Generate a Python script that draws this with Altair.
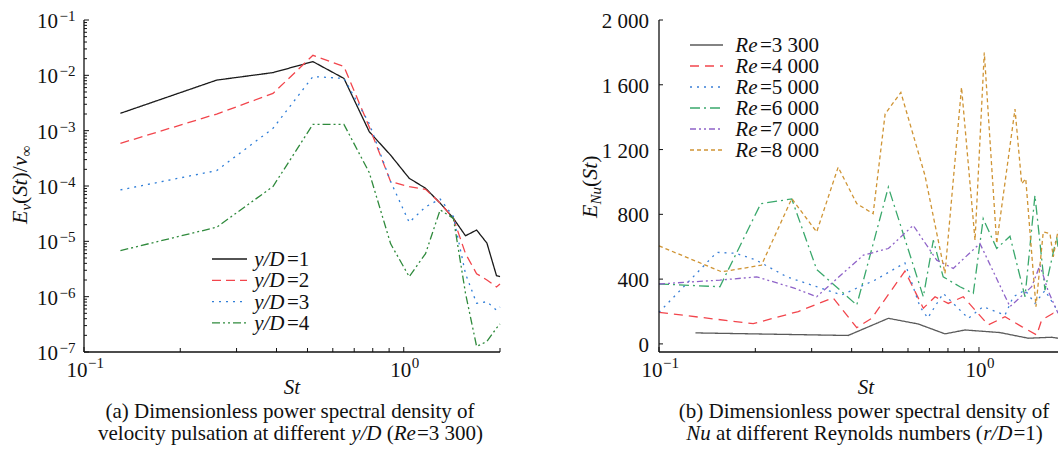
import altair as alt
import pandas as pd

SERIF = "'Liberation Serif', 'Times New Roman', Times, 'DejaVu Serif', serif"
INK = "#111111"

# ---------------- panel (a): velocity pulsation spectra (log-log) ----------------
st_a = [0.13, 0.26, 0.39, 0.52, 0.65, 0.78, 0.91, 1.04, 1.17, 1.30,
        1.43, 1.56, 1.69, 1.82, 1.95, 2.00]
ev_yd1 = [2.06e-3, 8.2e-3, 1.12e-2, 1.77e-2, 8.8e-3, 9.6e-4, 3.6e-4, 1.38e-4,
          9.1e-5, 4.9e-5, 2.6e-5, 1.26e-5, 1.6e-5, 9.3e-6, 2.4e-6, 2.3e-6]
ev_yd2 = [5.9e-4, 2.0e-3, 4.7e-3, 2.3e-2, 1.44e-2, 1.17e-3, 1.2e-4, 9.7e-5,
          8.7e-5, 4.9e-5, 2.6e-5, 6.0e-6, 2.6e-6, 2.0e-6, 1.5e-6, 1.7e-6]
ev_yd3 = [8.5e-5, 1.9e-4, 1.1e-3, 9.5e-3, 8.8e-3, 1.35e-3, 1.2e-4, 2.2e-5,
          4.2e-5, 5.8e-5, 2.8e-5, 2.6e-6, 7.6e-7, 8.1e-7, 5.7e-7, 6.5e-7]
ev_yd4 = [6.8e-6, 1.8e-5, 9.8e-5, 1.3e-3, 1.3e-3, 1.75e-4, 9.0e-6, 2.3e-6,
          6.0e-6, 3.7e-5, 2.6e-5, 1.15e-6, 1.26e-7, 1.55e-7, 2.7e-7, 3.2e-7]

names_a = ["1", "2", "3", "4"]
colors_a = ["#1a1a1a", "#f2454c", "#2f7ed8", "#2f8a3c"]
dashes_a = [[1, 0], [9, 5], [2, 5], [8, 3, 2, 3, 2, 3]]

# ---------------- panel (b): Nu spectra at several Re (log x, linear y) ----------------
st_re33 = [0.130, 0.390, 0.521, 0.646, 0.783, 0.904, 1.163, 1.426, 1.687, 1.766]
nu_re33 = [68, 52, 158, 123, 62, 86, 70, 35, 41, 35]

st_re40 = [0.100, 0.197, 0.2725, 0.350, 0.415, 0.462, 0.587, 0.670, 0.729, 0.802,
           0.893, 1.069, 1.206, 1.360, 1.515, 1.570, 1.707, 1.766]
nu_re40 = [195, 125, 200, 285, 100, 158, 450, 220, 291, 250,
           291, 117, 168, 107, 55, 148, 189, 170]

st_re50 = [0.100, 0.1515, 0.173, 0.200, 0.251, 0.311, 0.372, 0.473, 0.587, 0.654,
           0.692, 0.773, 0.926, 1.031, 1.206, 1.280, 1.393, 1.496, 1.608, 1.766]
nu_re50 = [195, 565, 560, 520, 414, 353, 302, 394, 500, 230,
           160, 312, 158, 230, 178, 291, 332, 250, 330, 200]

st_re60 = [0.100, 0.155, 0.208, 0.260, 0.311, 0.415, 0.521, 0.670, 0.720, 0.773,
           0.872, 0.960, 1.031, 1.136, 1.250, 1.393, 1.496, 1.608, 1.749, 1.766]
nu_re60 = [370, 353, 866, 895, 460, 240, 968, 291, 640, 414,
           353, 312, 773, 589, 665, 291, 917, 332, 660, 600]

st_re70 = [0.100, 0.155, 0.202, 0.266, 0.311, 0.435, 0.521, 0.623, 0.738, 0.831,
           1.007, 1.250, 1.461, 1.551, 1.643, 1.766]
nu_re70 = [370, 394, 414, 343, 291, 548, 589, 732, 517, 466,
           620, 230, 353, 486, 330, 190]

st_re80 = [0.100, 0.157, 0.209, 0.260, 0.311, 0.363, 0.415, 0.467, 0.509, 0.570,
           0.678, 0.783, 0.882, 0.972, 1.039, 1.136, 1.296, 1.360, 1.400, 1.507,
           1.588, 1.667, 1.707, 1.766]
nu_re80 = [605, 445, 486, 897, 691, 1091, 866, 804, 1420, 1553,
           1040, 435, 1584, 640, 1799, 620, 1450, 989, 1020, 230,
           691, 681, 537, 700]

names_b = ["3 300", "4 000", "5 000", "6 000", "7 000", "8 000"]
colors_b = ["#5a5a5a", "#f2454c", "#3a7fd6", "#3aa86c", "#8f63c8", "#cf9434"]
dashes_b = [[1, 0], [9, 6], [2, 5], [10, 4, 2, 4], [6, 3, 2, 3, 2, 3], [4, 3]]

# ---------------- axis tick values and labels ----------------
xa_major = [0.1, 1.0]
xa_minor = [0.2, 0.3, 0.4, 0.5, 0.6, 0.7, 0.8, 0.9, 2.0]
ya_major = [1e-1, 1e-2, 1e-3, 1e-4, 1e-5, 1e-6, 1e-7]
ya_exp = ["\u22121", "\u22122", "\u22123", "\u22124", "\u22125", "\u22126", "\u22127"]
ya_minor = [k * 10.0 ** n for n in range(-7, -1) for k in range(2, 10)]
xb_major = [0.1, 1.0]
xb_minor = [0.2, 0.3, 0.4, 0.5, 0.6, 0.7, 0.8, 0.9]
yb_major = [0, 400, 800, 1200, 1600, 2000]
yb_labels = ["0", "400", "800", "1 200", "1 600", "2 000"]

# ---------------- scales (each panel owns its pixel range) ----------------
XA = alt.Scale(type="log", domain=[0.1, 2.0], range=[84, 500], nice=False)
YA = alt.Scale(type="log", domain=[1e-7, 1e-1], range=[352, 20], nice=False)
XB = alt.Scale(type="log", domain=[0.1, 1.766], range=[659, 1058], nice=False)
YB = alt.Scale(type="linear", domain=[-50, 2000], range=[352, 20], nice=False, zero=False)

ONE = pd.DataFrame({"k": [0]})

# text rows below the plots (alphabetic baselines)
Y_XTITLE = 394
Y_CAP1 = 418
Y_CAP2 = 440


def long_frame(pairs, names):
    rows = []
    for name, (xs, ys) in zip(names, pairs):
        for x, y in zip(xs, ys):
            rows.append({"St": x, "E": y, "series": name})
    return pd.DataFrame(rows)


df_a = long_frame([(st_a, ev_yd1), (st_a, ev_yd2), (st_a, ev_yd3), (st_a, ev_yd4)], names_a)
df_b = long_frame([(st_re33, nu_re33), (st_re40, nu_re40), (st_re50, nu_re50),
                   (st_re60, nu_re60), (st_re70, nu_re70), (st_re80, nu_re80)], names_b)


def txt(s, x, y, size=21, italic=False, align="left", angle=0):
    kw = dict(font=SERIF, fontSize=size, align=align, baseline="alphabetic", color=INK)
    if italic:
        kw["fontStyle"] = "italic"
    if angle:
        kw["angle"] = angle
    return alt.Chart(ONE).mark_text(**kw).encode(
        x=alt.value(x), y=alt.value(y), text=alt.value(s))


def hline(x1, x2, y, color=INK, dash=None, width=1.3):
    kw = dict(color=color, strokeWidth=width)
    if dash:
        kw["strokeDash"] = dash
    return alt.Chart(ONE).mark_rule(**kw).encode(
        x=alt.value(x1), x2=alt.value(x2), y=alt.value(y))


def vline(x, y1, y2, width=1.3):
    return alt.Chart(ONE).mark_rule(color=INK, strokeWidth=width).encode(
        x=alt.value(x), y=alt.value(y1), y2=alt.value(y2))


def xticks(vals, scale, y0, length):
    return alt.Chart(pd.DataFrame({"St": vals})).mark_rule(color=INK, strokeWidth=1).encode(
        x=alt.X("St:Q", scale=scale, axis=None),
        y=alt.value(y0), y2=alt.value(y0 - length))


def yticks(vals, scale, x0, length):
    return alt.Chart(pd.DataFrame({"E": vals})).mark_rule(color=INK, strokeWidth=1).encode(
        y=alt.Y("E:Q", scale=scale, axis=None),
        x=alt.value(x0), x2=alt.value(x0 + length))


def xexp_label(value, scale, shift, exponent):
    d = pd.DataFrame({"St": [value]})
    base = alt.Chart(d).mark_text(font=SERIF, fontSize=21, align="right",
                                  baseline="alphabetic", color=INK, dx=shift, dy=0).encode(
        x=alt.X("St:Q", scale=scale, axis=None), y=alt.value(377), text=alt.value("10"))
    sup = alt.Chart(d).mark_text(font=SERIF, fontSize=15, align="left",
                                 baseline="alphabetic", color=INK, dx=shift + 0.5, dy=0).encode(
        x=alt.X("St:Q", scale=scale, axis=None), y=alt.value(368), text=alt.value(exponent))
    return [base, sup]


# ================= panel (a) =================
lines_a = alt.Chart(df_a).mark_line(strokeWidth=1.3).encode(
    x=alt.X("St:Q", scale=XA, axis=None),
    y=alt.Y("E:Q", scale=YA, axis=None),
    color=alt.Color("series:N", scale=alt.Scale(domain=names_a, range=colors_a), legend=None),
    strokeDash=alt.StrokeDash("series:N", scale=alt.Scale(domain=names_a, range=dashes_a), legend=None),
)

ya_frame = pd.DataFrame({"E": ya_major, "exp": ya_exp})
ya_base = alt.Chart(ya_frame).mark_text(font=SERIF, fontSize=21, align="right",
                                        baseline="alphabetic", color=INK, dy=8).encode(
    y=alt.Y("E:Q", scale=YA, axis=None), x=alt.value(58), text=alt.value("10"))
ya_sup = alt.Chart(ya_frame).mark_text(font=SERIF, fontSize=15, align="left",
                                       baseline="alphabetic", color=INK, dy=1).encode(
    y=alt.Y("E:Q", scale=YA, axis=None), x=alt.value(59.5), text=alt.Text("exp:N"))

layers_a = [
    lines_a,
    vline(84, 20, 352), hline(84, 500, 352, width=1.3),
    xticks(xa_major, XA, 352, 5), xticks(xa_minor, XA, 352, 4),
    yticks(ya_major, YA, 84, 5), yticks(ya_minor, YA, 84, 3),
    ya_base, ya_sup,
]
layers_a += xexp_label(0.1, XA, 3.5, "\u22121")
layers_a += xexp_label(1.0, XA, 7.5, "0")

# legend of panel (a)
for i, (nm, c, d) in enumerate(zip(names_a, colors_a, dashes_a)):
    yy = 259 + 21.3 * i
    layers_a.append(hline(212, 247, yy, color=c, dash=d if d != [1, 0] else None))
    layers_a.append(txt("y/D", 284.5, yy + 7, italic=True, align="right"))
    layers_a.append(txt("=" + nm, 287, yy + 7))

# y-axis title E_v(St)/v_inf, reading bottom-to-top
layers_a += [
    txt("E", 27, 224, size=22, italic=True, angle=270),
    txt("v", 31, 210.6, size=15, italic=True, angle=270),
    txt("(", 27, 203.9, size=22, angle=270),
    txt("St", 27, 196.6, size=22, italic=True, angle=270),
    txt(")/", 27, 179.5, size=22, angle=270),
    txt("v", 27, 166.1, size=22, italic=True, angle=270),
    txt("\u221e", 31, 156.3, size=15, angle=270),
]
# x-axis title and caption
layers_a += [
    txt("St", 292, Y_XTITLE, size=21, italic=True, align="center"),
    txt("(a) Dimensionless power spectral density of", 290, Y_CAP1, align="center"),
    txt("velocity pulsation at different", 98, Y_CAP2),
    txt("y/D", 351.2, Y_CAP2, italic=True),
    txt("(", 386.7, Y_CAP2),
    txt("Re", 393.7, Y_CAP2, italic=True),
    txt("=3 300)", 417, Y_CAP2),
]
panel_a = alt.layer(*layers_a)

# ================= panel (b) =================
lines_b = alt.Chart(df_b).mark_line(strokeWidth=1.3).encode(
    x=alt.X("St:Q", scale=XB, axis=None),
    y=alt.Y("E:Q", scale=YB, axis=None),
    color=alt.Color("series:N", scale=alt.Scale(domain=names_b, range=colors_b), legend=None),
    strokeDash=alt.StrokeDash("series:N", scale=alt.Scale(domain=names_b, range=dashes_b), legend=None),
)

yb_frame = pd.DataFrame({"E": yb_major, "lab": yb_labels})
yb_text = alt.Chart(yb_frame).mark_text(font=SERIF, fontSize=21, align="right",
                                        baseline="alphabetic", color=INK, dy=8).encode(
    y=alt.Y("E:Q", scale=YB, axis=None), x=alt.value(649), text=alt.Text("lab:N"))

layers_b = [
    lines_b,
    vline(659, 20, 352), hline(659, 1058, 352, width=1.3),
    xticks(xb_major, XB, 352, 5), xticks(xb_minor, XB, 352, 4),
    yticks(yb_major, YB, 659, 4),
    yb_text,
]
layers_b += xexp_label(0.1, XB, 3.5, "\u22121")
layers_b += xexp_label(1.0, XB, 7.5, "0")

for i, (nm, c, d) in enumerate(zip(names_b, colors_b, dashes_b)):
    yy = 45 + 21.0 * i
    layers_b.append(hline(690, 723, yy, color=c, dash=d if d != [1, 0] else None))
    layers_b.append(txt("Re", 757.5, yy + 7, italic=True, align="right"))
    layers_b.append(txt("=" + nm, 760, yy + 7))

# y-axis title E_Nu(St)
layers_b += [
    txt("E", 597, 218, size=22, italic=True, angle=270),
    txt("Nu", 601, 204.6, size=15, italic=True, angle=270),
    txt("(", 597, 187.1, size=22, angle=270),
    txt("St", 597, 179.8, size=22, italic=True, angle=270),
    txt(")", 597, 162.7, size=22, angle=270),
]
layers_b += [
    txt("St", 866, Y_XTITLE, size=21, italic=True, align="center"),
    txt("(b) Dimensionless power spectral density of", 864, Y_CAP1, align="center"),
    txt("Nu", 686.3, Y_CAP2, italic=True),
    txt("at different Reynolds numbers (", 716.1, Y_CAP2),
    txt("r/D", 983.2, Y_CAP2, italic=True),
    txt("=1)", 1013.5, Y_CAP2),
]
panel_b = alt.layer(*layers_b)

chart = alt.layer(panel_a, panel_b).resolve_scale(
    x="independent", y="independent", color="independent", strokeDash="independent"
).properties(
    width=1058, height=457, padding=0, autosize="none"
).configure_view(stroke=None)

chart.save("out.html", embed_options={"renderer": "svg", "actions": False})
